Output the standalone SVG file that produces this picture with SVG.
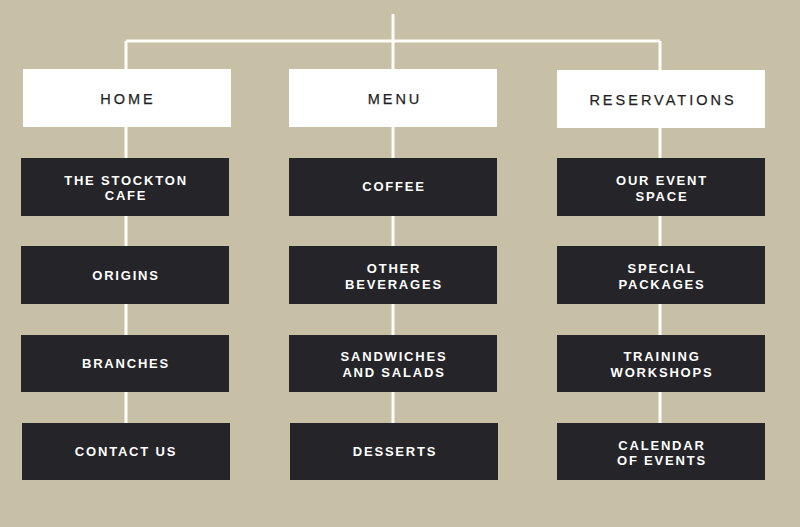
<svg xmlns="http://www.w3.org/2000/svg" width="800" height="527" viewBox="0 0 800 527">
<style>
.bg{fill:#c8bfa7}
.line{stroke:#fffdf8;stroke-width:3;fill:none}
.head rect{fill:#ffffff}
.head text{font-family:"Liberation Sans",Arial,sans-serif;font-size:14.5px;letter-spacing:3px;fill:#1f1f24;stroke:#1f1f24;stroke-width:0.25;text-anchor:middle}
.item rect{fill:#252429}
.item text{font-family:"Liberation Sans",Arial,sans-serif;font-size:13px;font-weight:bold;letter-spacing:1.8px;fill:#ffffff;text-anchor:middle}
</style>
<rect class="bg" x="0" y="0" width="800" height="527"/>
<g id="connectors">
<path class="line" d="M393 14 V41 M126 41 H660 M126 41 V423 M393 41 V423 M660 41 V423"/>
</g>
<g id="home" class="head"><rect x="23" y="69" width="208" height="58"/><text x="128" y="104">HOME</text></g>
<g id="menu" class="head"><rect x="289" y="69" width="208" height="58"/><text x="395" y="104">MENU</text></g>
<g id="reservations" class="head"><rect x="557" y="70" width="208" height="58"/><text x="663" y="105">RESERVATIONS</text></g>

<g id="stockton" class="item"><rect x="21" y="158" width="208" height="58"/><text x="126" y="185">THE STOCKTON</text><text x="126" y="200">CAFE</text></g>
<g id="origins" class="item"><rect x="21" y="246" width="208" height="58"/><text x="126" y="280">ORIGINS</text></g>
<g id="branches" class="item"><rect x="21" y="335" width="208" height="57"/><text x="126" y="368">BRANCHES</text></g>
<g id="contact" class="item"><rect x="22" y="423" width="208" height="57"/><text x="126" y="456">CONTACT US</text></g>

<g id="coffee" class="item"><rect x="289" y="158" width="208" height="58"/><text x="394" y="191">COFFEE</text></g>
<g id="beverages" class="item"><rect x="289" y="246" width="208" height="58"/><text x="394" y="273">OTHER</text><text x="394" y="289">BEVERAGES</text></g>
<g id="sandwiches" class="item"><rect x="289" y="335" width="208" height="57"/><text x="394" y="361">SANDWICHES</text><text x="394" y="377">AND SALADS</text></g>
<g id="desserts" class="item"><rect x="290" y="423" width="208" height="57"/><text x="395" y="456">DESSERTS</text></g>

<g id="event-space" class="item"><rect x="557" y="158" width="208" height="58"/><text x="662" y="185">OUR EVENT</text><text x="662" y="201">SPACE</text></g>
<g id="packages" class="item"><rect x="557" y="246" width="208" height="58"/><text x="662" y="273">SPECIAL</text><text x="662" y="289">PACKAGES</text></g>
<g id="workshops" class="item"><rect x="557" y="335" width="208" height="57"/><text x="662" y="361">TRAINING</text><text x="662" y="377">WORKSHOPS</text></g>
<g id="calendar" class="item"><rect x="557" y="423" width="208" height="57"/><text x="662" y="450">CALENDAR</text><text x="662" y="465">OF EVENTS</text></g>
</svg>
